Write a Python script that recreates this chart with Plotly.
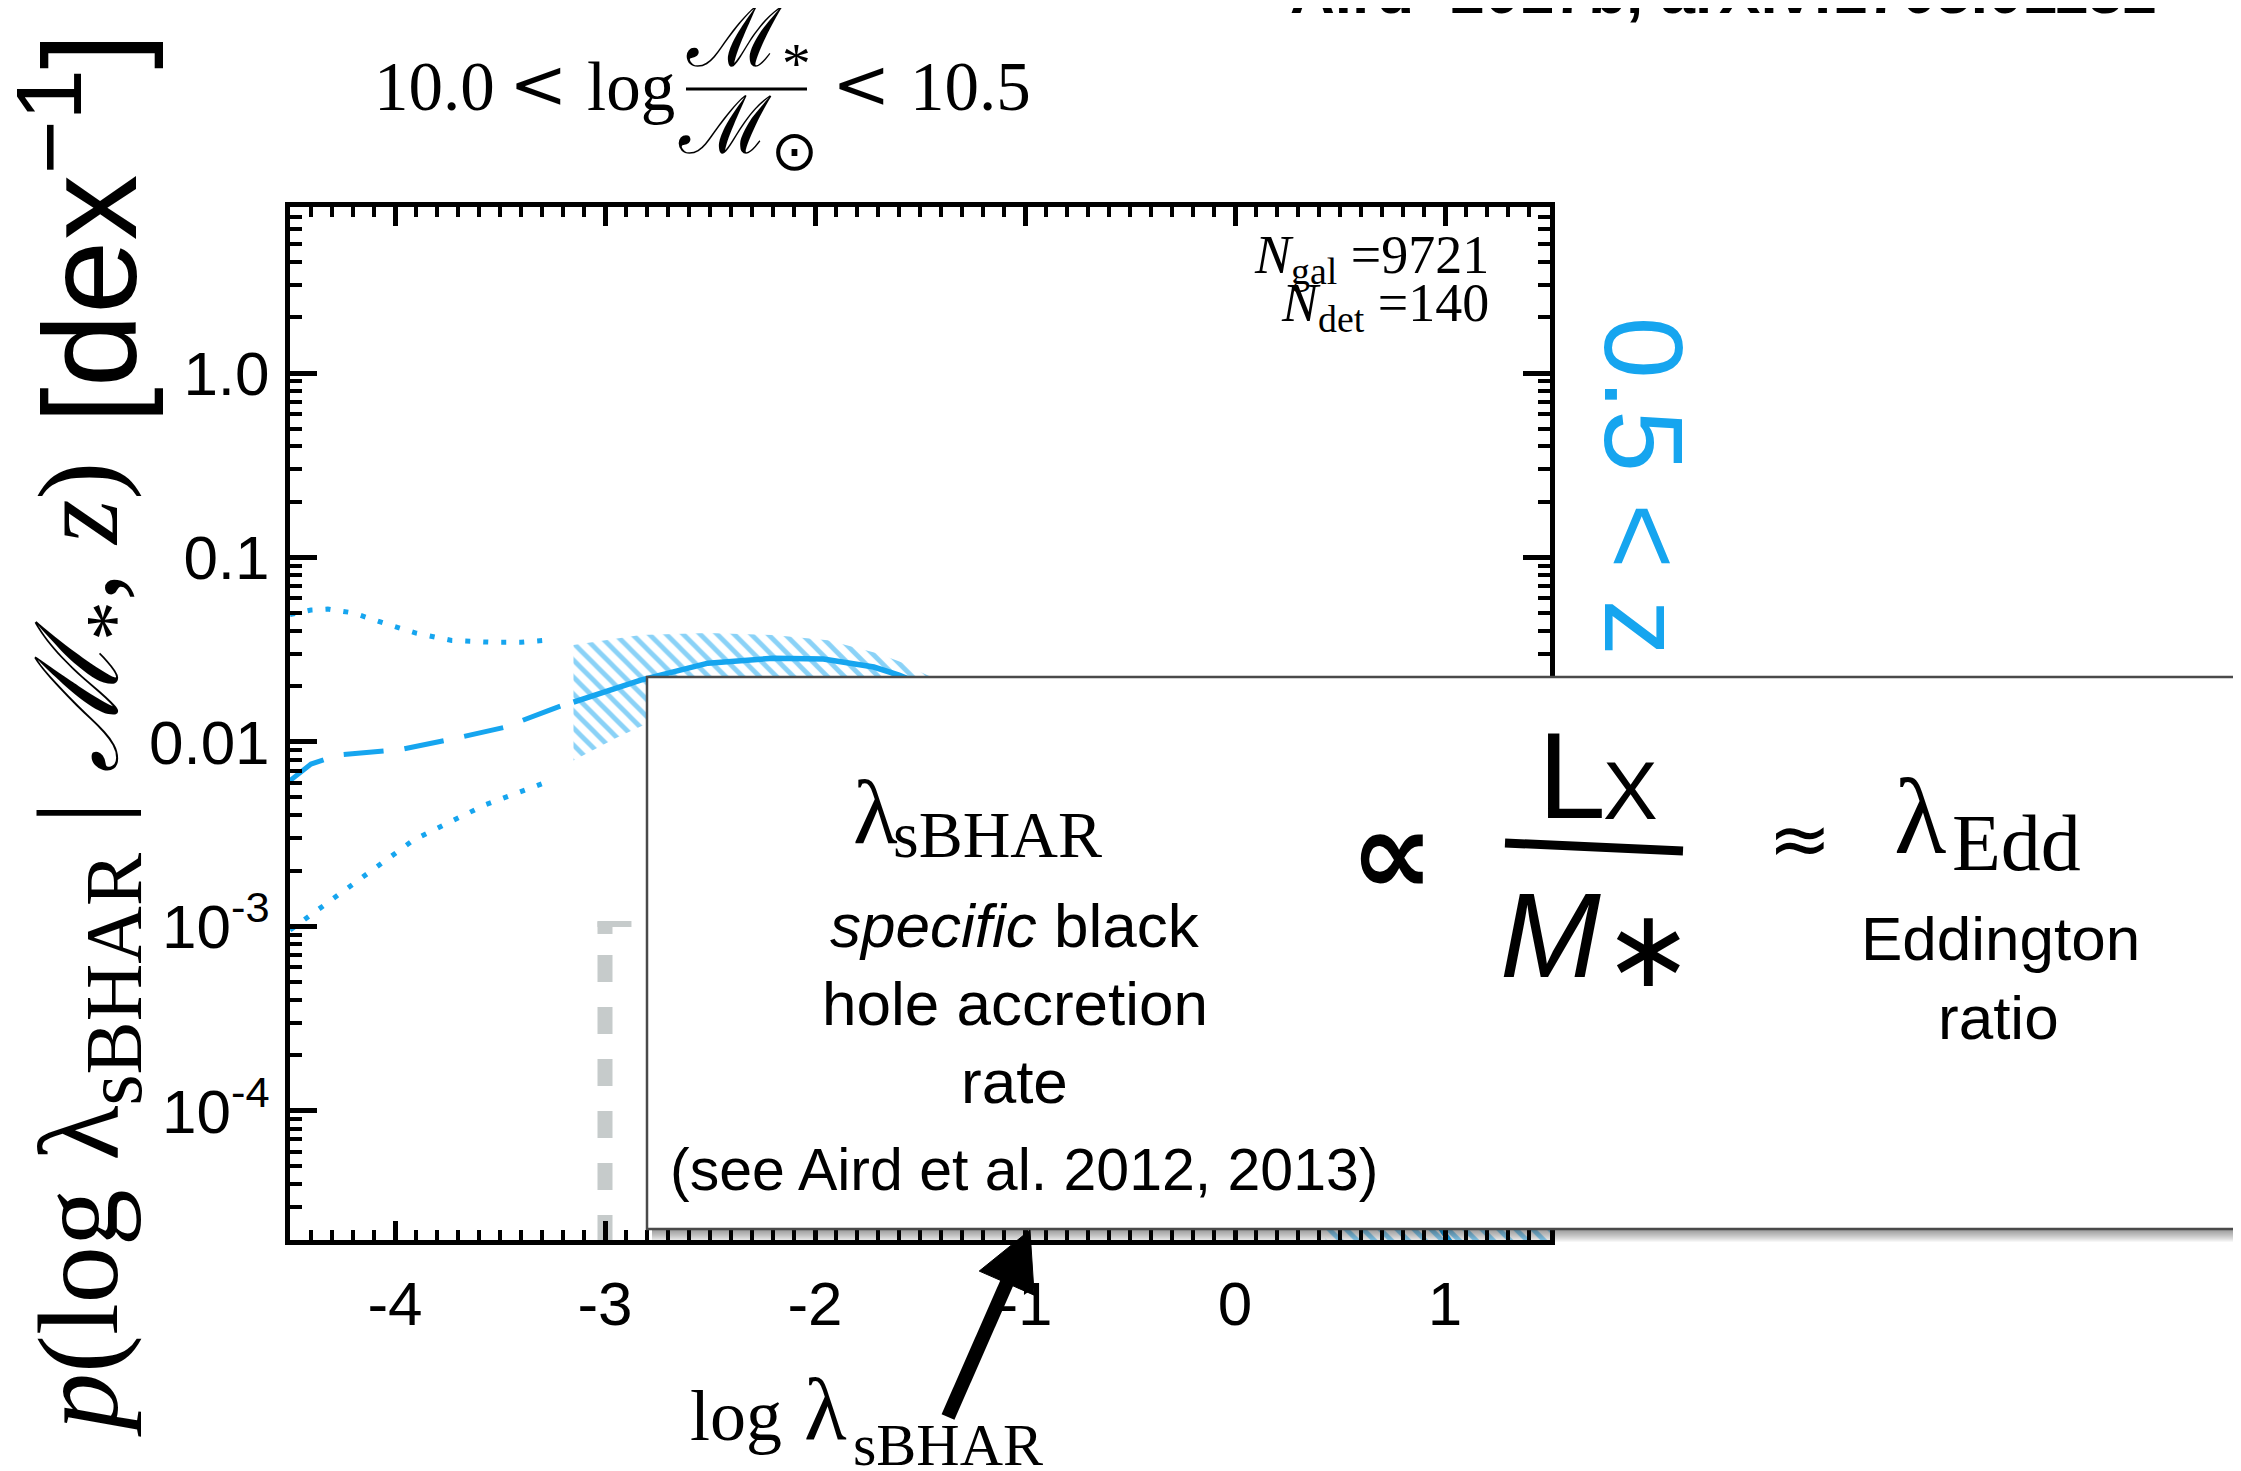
import plotly.graph_objects as go

# ---------------- data ----------------
upper_dot_x = [-4.50, -4.40, -4.32, -4.20, -4.07, -3.90, -3.73, -3.54, -3.40, -3.29]
upper_dot_p = [0.0490, 0.0519, 0.0525, 0.0501, 0.0447, 0.0389, 0.0355, 0.0347, 0.0347, 0.0355]

dash_x = [-4.50, -4.40, -4.27, -4.10, -3.97, -3.71, -3.48, -3.27, -3.15]
dash_p = [0.00617, 0.00759, 0.00851, 0.00891, 0.00912, 0.01047, 0.0120, 0.0148, 0.0166]

lower_dot_x = [-4.50, -4.25, -3.91, -3.57, -3.26]
lower_dot_p = [0.000955, 0.00155, 0.00295, 0.00457, 0.00617]

solid_x = [-3.15, -2.83, -2.51, -2.20, -1.96, -1.72, -1.60, -1.30, -1.00, -0.50, 0.00, 0.50, 1.00, 1.50]
solid_p = [0.01644, 0.02163, 0.02673, 0.02844, 0.02812, 0.02547, 0.02301, 0.0166, 0.0107,
           0.00398, 0.00100, 1.58e-4, 2.14e-5, 3.16e-6]

band_hi_x = [-3.15, -2.83, -2.51, -2.20, -1.94, -1.70, -1.56, -1.50, -1.20, -0.80, -0.40, 0.00, 0.50, 1.00, 1.50]
band_hi_p = [0.0335, 0.0380, 0.0389, 0.0380, 0.0356, 0.0302, 0.0263, 0.0240, 0.0166, 0.00891,
             0.00355, 0.00112, 2.51e-4, 7.94e-5, 3.16e-5]
band_lo_x = [-3.15, -2.95, -2.80, -2.50, -2.20, -1.90, -1.60, -1.20, -0.80, -0.40, 0.00, 0.40, 0.60, 1.00, 1.50]
band_lo_p = [0.00794, 0.01047, 0.01259, 0.01585, 0.0174, 0.0162, 0.0132, 0.00794, 0.00316,
             8.91e-4, 1.78e-4, 2.4e-5, 7.9e-6, 1.0e-6, 1.0e-7]

limit_x = -3.0
limit_dash_top_p = 7.0e-4
limit_bottom_p = 1.5e-5
limit_cap_x = [-3.036, -2.874]
limit_cap_p = 1.03e-3
limit_stub_p = [1.06e-3, 0.91e-3]

x_tickvals = [-4, -3, -2, -1, 0, 1]
x_ticktext = ["-4", "-3", "-2", "-1", "0", "1"]
y_tickvals = [1e-4, 1e-3, 1e-2, 1e-1, 1.0]
y_ticktext = ["10<sup>-4</sup>", "10<sup>-3</sup>", "0.01", "0.1", "1.0"]

n_gal = 9721
n_det = 140

# ---------------- style ----------------
BLUE = "#16a5ef"
GRAY = "#c6cbcb"
SANS = "Liberation Sans"
SERIF = "Liberation Serif"
OFF = 8                      # browser body margin
W, H = 2241 - OFF, 1471 - OFF
L, R, T, B = 290, 1550, 207, 1240   # plot area in page pixels


def xp(px):
    return (px - L) / (R - L)


def yp(py):
    return (B - py) / (B - T)


fig = go.Figure()

# hatched uncertainty band
fig.add_trace(go.Scatter(
    x=band_hi_x + band_lo_x[::-1], y=band_hi_p + band_lo_p[::-1],
    mode="lines", fill="toself", line=dict(width=0, color=BLUE),
    fillcolor="rgba(0,0,0,0)",
    fillpattern=dict(shape="\\", fgcolor=BLUE, bgcolor="rgba(0,0,0,0)",
                     size=12, solidity=0.4, fillmode="overlay"),
    hoverinfo="skip", showlegend=False))

fig.add_trace(go.Scatter(x=solid_x, y=solid_p, mode="lines",
                         line=dict(color=BLUE, width=5.5), showlegend=False))
fig.add_trace(go.Scatter(x=dash_x, y=dash_p, mode="lines",
                         line=dict(color=BLUE, width=5, dash="40px,21px"), showlegend=False))
fig.add_trace(go.Scatter(x=upper_dot_x, y=upper_dot_p, mode="lines",
                         line=dict(color=BLUE, width=5, dash="5px,13px"), showlegend=False))
fig.add_trace(go.Scatter(x=lower_dot_x, y=lower_dot_p, mode="lines",
                         line=dict(color=BLUE, width=5, dash="5px,13px"), showlegend=False))

# grey limit marker
fig.add_trace(go.Scatter(x=[limit_x, limit_x], y=[limit_dash_top_p, limit_bottom_p], mode="lines",
                         line=dict(color=GRAY, width=15, dash="27px,25px"), showlegend=False))
fig.add_trace(go.Scatter(x=limit_cap_x, y=[limit_cap_p, limit_cap_p], mode="lines",
                         line=dict(color=GRAY, width=6), showlegend=False))
fig.add_trace(go.Scatter(x=[limit_x, limit_x], y=limit_stub_p, mode="lines",
                         line=dict(color=GRAY, width=15), showlegend=False))

minor_y = [m * 10.0 ** e for e in range(-5, 1) for m in range(2, 10)]

fig.update_layout(
    width=W, height=H, autosize=False,
    margin=dict(l=L - OFF, r=W - (R - OFF), t=T - OFF, b=H - (B - OFF), pad=0),
    paper_bgcolor="white", plot_bgcolor="white",
    showlegend=False,
    xaxis=dict(range=[-4.5, 1.5], tickmode="array", tickvals=x_tickvals, ticktext=x_ticktext,
               ticks="inside", ticklen=19, tickwidth=5, tickcolor="black",
               showline=True, linewidth=5, linecolor="black", mirror="allticks",
               showgrid=False, zeroline=False, ticklabelstandoff=6,
               tickfont=dict(family=SANS, size=62, color="black"),
               minor=dict(ticks="inside", ticklen=10, tickwidth=4, tickcolor="black",
                          dtick=0.1, tick0=0, showgrid=False)),
    yaxis=dict(type="log", range=[-4.7, 0.9], tickmode="array", tickvals=y_tickvals,
               ticktext=y_ticktext, ticks="inside", ticklen=27, tickwidth=5, tickcolor="black",
               showline=True, linewidth=5, linecolor="black", mirror="allticks",
               showgrid=False, zeroline=False, ticklabelstandoff=3,
               tickfont=dict(family=SANS, size=62, color="black"),
               minor=dict(ticks="inside", ticklen=12, tickwidth=4, tickcolor="black",
                          tickvals=minor_y, showgrid=False)),
)

shapes = []
# box shadow
for k in range(1, 14):
    shapes.append(dict(type="rect", xref="paper", yref="paper",
                       x0=xp(652), x1=xp(2235 + k * 0.5), y0=yp(683), y1=yp(1229 + k),
                       fillcolor="rgba(0,0,0,0.035)", line=dict(width=0), layer="above"))
# overlay box
shapes.append(dict(type="rect", xref="paper", yref="paper",
                   x0=xp(647), x1=xp(2235), y0=yp(677), y1=yp(1229),
                   fillcolor="white", line=dict(color="#4a4a4a", width=2.5), layer="above"))
# title fraction bar
shapes.append(dict(type="line", xref="paper", yref="paper", x0=xp(686), x1=xp(807),
                   y0=yp(89), y1=yp(89), line=dict(color="black", width=3), layer="above"))
# Lx / M* fraction bar
shapes.append(dict(type="line", xref="paper", yref="paper", x0=xp(1505), x1=xp(1683),
                   y0=yp(843), y1=yp(851), line=dict(color="black", width=9), layer="above"))
# arrow
tip = (1030, 1230)
tail = (948, 1417)
dx, dy = tip[0] - tail[0], tip[1] - tail[1]
ln = (dx * dx + dy * dy) ** 0.5
ux, uy = dx / ln, dy / ln
nx, ny = -uy, ux
hl, hw = 58, 30
bx, by = tip[0] - hl * ux, tip[1] - hl * uy
shapes.append(dict(type="line", xref="paper", yref="paper", x0=xp(tail[0]), y0=yp(tail[1]),
                   x1=xp(bx + 4 * ux), y1=yp(by + 4 * uy), line=dict(color="black", width=14),
                   layer="above"))
c1 = (bx + hw * nx, by + hw * ny)
c2 = (bx - hw * nx, by - hw * ny)
path = "M {:.5f} {:.5f} L {:.5f} {:.5f} L {:.5f} {:.5f} Z".format(
    xp(tip[0]), yp(tip[1]), xp(c1[0]), yp(c1[1]), xp(c2[0]), yp(c2[1]))
shapes.append(dict(type="path", xref="paper", yref="paper", path=path,
                   fillcolor="black", line=dict(color="black", width=1), layer="above"))
fig.update_layout(shapes=shapes)


def txt(text, x, y, size, family=SANS, xanchor="left", yanchor="middle", color="black",
        angle=0, baseline=True):
    yc = y - 0.34 * size if baseline else y
    fig.add_annotation(text=text, x=xp(x), y=yp(yc), xref="paper", yref="paper",
                       showarrow=False, xanchor=xanchor, yanchor=yanchor, textangle=angle,
                       borderpad=0, borderwidth=0,
                       font=dict(family=family, size=size, color=color))


# top title: 10.0 < log M*/Msun < 10.5
txt("10.0", 374, 110, 69, SERIF)
txt("<", 538, 108, 70, "DejaVu Serif", xanchor="center")
txt("log", 587, 110, 69, SERIF)
txt("ℳ<sub>*</sub>", 748, 44, 82, SERIF, xanchor="center", baseline=False)
txt("ℳ<sub>⊙</sub>", 748, 132, 80, SERIF, xanchor="center", baseline=False)
txt("<", 861, 108, 70, "DejaVu Serif", xanchor="center")
txt("10.5", 910, 110, 69, SERIF)

# cut-off reference at top right
txt("<b>Aird+2017b, arXiv:1705.01132</b>", 1290, 13, 62, SANS)

# N gal / N det
txt("<i>N</i><sub>gal</sub> =%d" % n_gal, 1489, 258, 54, SERIF, xanchor="right", baseline=False)
txt("<i>N</i><sub>det</sub> =%d" % n_det, 1489, 306, 54, SERIF, xanchor="right", baseline=False)

# redshift label (rotated)
txt("0.5 < z", 1643, 316, 112, SANS, xanchor="center", yanchor="top", color=BLUE, angle=90,
    baseline=False)

# y axis title (rotated)
txt("<i>p</i>(log λ<sub>sBHAR</sub> | <i>ℳ</i><sub>*</sub>, <i>z</i>)", 86, 950, 114, SERIF,
    xanchor="center", angle=-90, baseline=False)
txt("[dex<sup>−1</sup>]", 80, 228, 132, SANS, xanchor="center", angle=-90, baseline=False)

# box contents
txt("λ", 853, 843, 92, SERIF)
txt("sBHAR", 893, 857, 66, SERIF)
txt("<i>specific</i> black", 1015, 947, 62, SANS, xanchor="center")
txt("hole accretion", 1015, 1025, 62, SANS, xanchor="center")
txt("rate", 1015, 1103, 62, SANS, xanchor="center")
txt("(see Aird et al. 2012, 2013)", 670, 1190, 59, SANS)
txt("<b>∝</b>", 1392, 853, 118, "DejaVu Sans", xanchor="center", baseline=False)
txt("L", 1538, 817, 122, SANS)
txt("X", 1603, 818, 82, SANS)
txt("<i>M</i>", 1500, 976, 121, SANS)
txt("∗", 1648, 948, 108, "DejaVu Sans", xanchor="center", baseline=False)
txt("≈", 1800, 838, 76, "DejaVu Sans", xanchor="center", baseline=False)
txt("λ", 1894, 853, 108, SERIF)
txt("Edd", 1952, 870, 80, SERIF)
txt("Eddington", 2000, 960, 62, SANS, xanchor="center")
txt("ratio", 1998, 1039, 62, SANS, xanchor="center")

# arrow label
txt("log", 690, 1440, 72, SERIF)
txt("λ", 804, 1440, 88, SERIF)
txt("sBHAR", 853, 1465, 60, SERIF)

fig.write_html("out.html")
